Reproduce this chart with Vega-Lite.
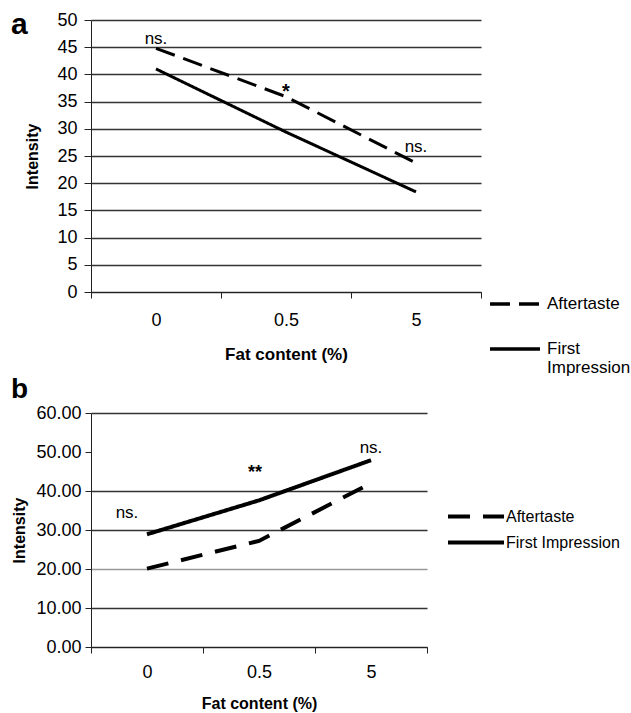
{
  "$schema": "https://vega.github.io/schema/vega-lite/v6.json",
  "padding": {"left": 11, "top": 10, "right": 0, "bottom": 5},
  "config": {
    "font": "Liberation Sans",
    "view": {"stroke": null},
    "axis": {"domainColor": "#222", "tickColor": "#222", "labelColor": "black", "titleColor": "black", "labelFont": "Liberation Sans", "titleFont": "Liberation Sans", "labelOverlap": false},
    "legend": {"labelFont": "Liberation Sans", "labelColor": "black"}
  },
  "datasets": {
    "lines": [
      {"panel": "a", "fat": "0", "series": "Aftertaste", "v": 44.8},
      {"panel": "a", "fat": "0.5", "series": "Aftertaste", "v": 35.9},
      {"panel": "a", "fat": "5", "series": "Aftertaste", "v": 23.7},
      {"panel": "a", "fat": "0", "series": "First Impression", "v": 41.0},
      {"panel": "a", "fat": "0.5", "series": "First Impression", "v": 29.4},
      {"panel": "a", "fat": "5", "series": "First Impression", "v": 18.4},
      {"panel": "b", "fat": "0", "series": "Aftertaste", "v": 20.1},
      {"panel": "b", "fat": "0.5", "series": "Aftertaste", "v": 27.2},
      {"panel": "b", "fat": "5", "series": "Aftertaste", "v": 42.0},
      {"panel": "b", "fat": "0", "series": "First Impression", "v": 28.9},
      {"panel": "b", "fat": "0.5", "series": "First Impression", "v": 37.6},
      {"panel": "b", "fat": "5", "series": "First Impression", "v": 47.9}
    ],
    "notes": [
      {"panel": "a", "fat": "0", "label": "ns.", "v": 46.5, "shift": "none"},
      {"panel": "a", "fat": "0.5", "label": "*", "v": 36.7, "shift": "none"},
      {"panel": "a", "fat": "5", "label": "ns.", "v": 26.7, "shift": "none"},
      {"panel": "b", "fat": "0", "label": "ns.", "v": 34.3, "shift": "left"},
      {"panel": "b", "fat": "0.5", "label": "**", "v": 44.6, "shift": "none"},
      {"panel": "b", "fat": "5", "label": "ns.", "v": 51.0, "shift": "none"}
    ]
  },
  "spacing": 121,
  "bounds": "flush",
  "resolve": {
    "scale": {"x": "independent", "y": "independent", "strokeDash": "independent"},
    "legend": {"strokeDash": "independent"}
  },
  "vconcat": [
    {
      "width": 390,
      "height": 272,
      "title": {"text": "a", "orient": "top", "anchor": "start", "frame": "group", "align": "left", "baseline": "alphabetic", "fontSize": 30, "fontWeight": "bold", "dx": -80, "dy": 53, "offset": 0, "color": "black"},
      "encoding": {
        "x": {"field": "fat", "type": "nominal", "sort": ["0", "0.5", "5"],
          "scale": {"type": "band", "paddingInner": 0, "paddingOuter": 0},
          "axis": {"labelAngle": 0, "tickBand": "extent", "tickSize": 6, "labelPadding": 13, "labelFontSize": 18, "title": "Fat content (%)", "titleFontSize": 17, "titleFontWeight": "bold", "titlePadding": 17, "grid": false}},
        "y": {"field": "v", "type": "quantitative", "scale": {"domain": [0, 50], "nice": false, "zero": true},
          "axis": {"values": [0, 5, 10, 15, 20, 25, 30, 35, 40, 45, 50], "grid": true, "gridColor": "#333", "gridWidth": 1.3, "tickSize": 7, "labelPadding": 7, "labelFontSize": 18, "title": "Intensity", "titleFontSize": 16, "titleFontWeight": "bold", "titlePadding": 16}}
      },
      "layer": [
        {
          "data": {"name": "lines"},
          "transform": [{"filter": "datum.panel == 'a'"}],
          "mark": {"type": "line", "strokeWidth": 3, "color": "black"},
          "encoding": {
            "strokeDash": {"field": "series", "type": "nominal",
              "scale": {"domain": ["Aftertaste", "First Impression"], "range": [[20, 9], [1, 0]]},
              "legend": {"orient": "none", "legendX": 397, "legendY": 257, "title": null, "padding": 0, "symbolType": "stroke", "symbolSize": 2500, "symbolStrokeWidth": 3.5, "symbolStrokeColor": "black", "labelFontSize": 17, "labelOffset": 5, "rowPadding": 10, "labelExpr": "datum.label == 'First Impression' ? ['First', 'Impression'] : datum.label"}}
          }
        },
        {
          "data": {"name": "notes"},
          "transform": [{"filter": "datum.panel == 'a' && datum.label == 'ns.'"}],
          "mark": {"type": "text", "fontSize": 17, "color": "black", "baseline": "middle"},
          "encoding": {"text": {"field": "label"}}
        },
        {
          "data": {"name": "notes"},
          "transform": [{"filter": "datum.panel == 'a' && datum.label != 'ns.'"}],
          "mark": {"type": "text", "fontSize": 20, "fontWeight": "bold", "color": "black", "baseline": "middle"},
          "encoding": {"text": {"field": "label"}}
        }
      ]
    },
    {
      "width": 336,
      "height": 234,
      "title": {"text": "b", "orient": "top", "anchor": "start", "frame": "group", "align": "left", "baseline": "alphabetic", "fontSize": 28, "fontWeight": "bold", "dx": -80, "dy": 22, "offset": 0, "color": "black"},
      "encoding": {
        "x": {"field": "fat", "type": "nominal", "sort": ["0", "0.5", "5"],
          "scale": {"type": "band", "paddingInner": 0, "paddingOuter": 0},
          "axis": {"labelAngle": 0, "tickBand": "extent", "tickSize": 6, "labelPadding": 10, "labelFontSize": 18, "title": "Fat content (%)", "titleFontSize": 16, "titleFontWeight": "bold", "titlePadding": 14, "grid": false}},
        "y": {"field": "v", "type": "quantitative", "scale": {"domain": [0, 60], "nice": false, "zero": true},
          "axis": {"values": [0, 10, 20, 30, 40, 50, 60], "format": ".2f", "grid": true,
            "gridColor": {"condition": {"test": "datum.value == 20", "value": "#999"}, "value": "#333"},
            "gridOpacity": {"condition": {"test": "datum.value == 50", "value": 0}, "value": 1},
            "gridWidth": 1.3, "tickSize": 6, "labelPadding": 4, "labelFontSize": 18, "title": "Intensity", "titleFontSize": 16, "titleFontWeight": "bold", "titlePadding": 8}}
      },
      "layer": [
        {
          "data": {"name": "lines"},
          "transform": [{"filter": "datum.panel == 'b'"}],
          "mark": {"type": "line", "strokeWidth": 4, "color": "black"},
          "encoding": {
            "strokeDash": {"field": "series", "type": "nominal",
              "scale": {"domain": ["Aftertaste", "First Impression"], "range": [[22, 13], [1, 0]]},
              "legend": {"orient": "none", "legendX": 355, "legendY": 95, "title": null, "padding": 0, "symbolType": "stroke", "symbolSize": 3136, "symbolStrokeWidth": 4, "symbolStrokeColor": "black", "labelFontSize": 16, "labelOffset": 0, "rowPadding": 9, "clipHeight": 17}}
          }
        },
        {
          "data": {"name": "notes"},
          "transform": [{"filter": "datum.panel == 'b' && datum.shift == 'none' && datum.label == 'ns.'"}],
          "mark": {"type": "text", "fontSize": 17, "color": "black", "baseline": "middle"},
          "encoding": {"text": {"field": "label"}}
        },
        {
          "data": {"name": "notes"},
          "transform": [{"filter": "datum.panel == 'b' && datum.label != 'ns.'"}],
          "mark": {"type": "text", "fontSize": 18, "fontWeight": "bold", "color": "black", "baseline": "middle", "dx": -4},
          "encoding": {"text": {"field": "label"}}
        },
        {
          "data": {"name": "notes"},
          "transform": [{"filter": "datum.panel == 'b' && datum.shift == 'left'"}],
          "mark": {"type": "text", "fontSize": 17, "color": "black", "baseline": "middle", "dx": -20},
          "encoding": {"text": {"field": "label"}}
        }
      ]
    }
  ]
}
